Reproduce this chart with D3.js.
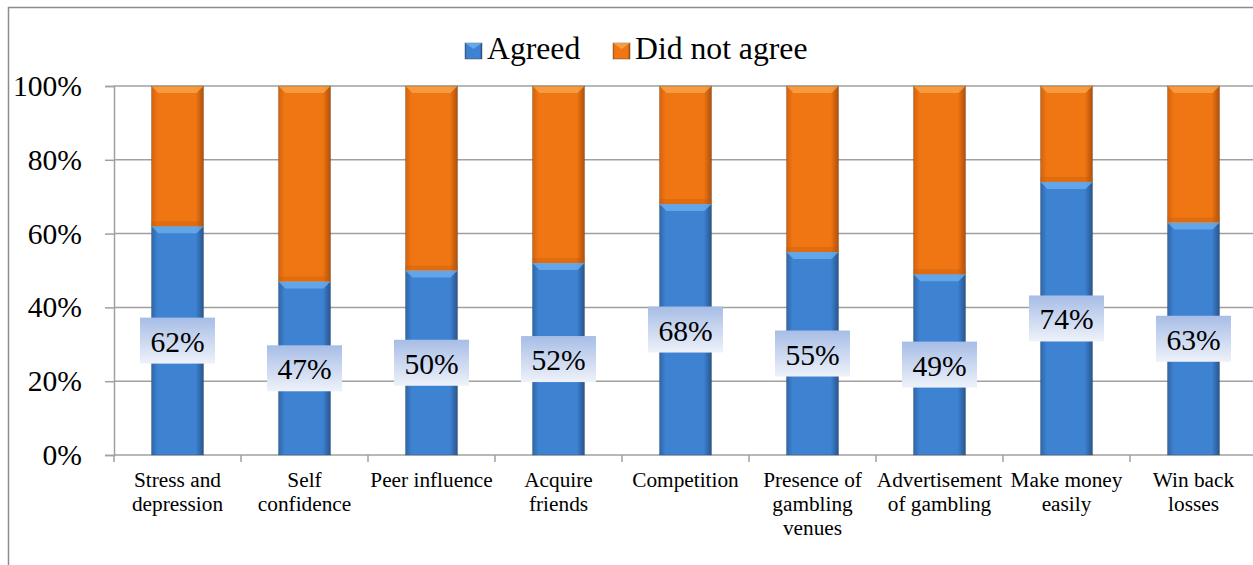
<!DOCTYPE html>
<html><head><meta charset="utf-8">
<script src="https://cdn.jsdelivr.net/npm/d3@7"></script>
</head><body style="margin:0;background:#fff"><svg id="c" width="1253" height="565" font-family="Liberation Serif" style="display:block"></svg>
<script>
const categories = [["Stress and","depression"],["Self","confidence"],["Peer influence"],["Acquire","friends"],["Competition"],["Presence of","gambling","venues"],["Advertisement","of gambling"],["Make money","easily"],["Win back","losses"]];
const agreed = [62,47,50,52,68,55,49,74,63];
const notAgreed = agreed.map(v=>100-v);
const yTicks = [0,20,40,60,80,100];
const seriesNames = ["Agreed","Did not agree"];
const FONT = "Liberation Serif";

const svg = d3.select("#c");
const defs = svg.append("defs");
function barGrad(id, c0, c1, c2){
  const g = defs.append("linearGradient").attr("id",id).attr("x1",0).attr("x2",1).attr("y1",0).attr("y2",0);
  g.append("stop").attr("offset","0%").attr("stop-color",c0);
  g.append("stop").attr("offset","12%").attr("stop-color",c1);
  g.append("stop").attr("offset","85%").attr("stop-color",c1);
  g.append("stop").attr("offset","100%").attr("stop-color",c2);
}
barGrad("gb","#2f66a8","#3e82d2","#28558e");
barGrad("go","#d4620c","#f07613","#b0500a");
const lg = defs.append("linearGradient").attr("id","gl").attr("x1",0).attr("x2",0).attr("y1",0).attr("y2",1);
lg.append("stop").attr("offset","0%").attr("stop-color","#a7bde6");
lg.append("stop").attr("offset","100%").attr("stop-color","#eef2fa");

// frame
svg.append("path").attr("d","M8.5,565 V7.5 H1253").attr("fill","none").attr("stroke","#8c8c8c").attr("stroke-width",1.5);

const x = d3.scaleBand().domain(d3.range(categories.length)).range([114,1257]).paddingInner(0.59).paddingOuter(0.295);
const xo = d3.scaleBand().domain(d3.range(categories.length)).range([114,1257]);
const y = d3.scaleLinear().domain([0,100]).range([455,86]);

// gridlines
svg.append("g").selectAll("line").data(yTicks.slice(1)).join("line")
  .attr("x1",114).attr("x2",1257).attr("y1",d=>y(d)).attr("y2",d=>y(d))
  .attr("stroke","#a0a0a0").attr("stroke-width",1.5);

// y axis
const ya = svg.append("g").attr("transform","translate(114,0)")
  .call(d3.axisLeft(y).tickValues(yTicks).tickFormat(d=>d+"%").tickSize(9).tickPadding(23));
ya.attr("font-family",FONT);
ya.select(".domain").attr("stroke","#a0a0a0").attr("stroke-width",1.5);
ya.selectAll(".tick line").attr("stroke","#a0a0a0").attr("stroke-width",1.5);
ya.selectAll("text").attr("font-family",FONT).attr("font-size",29.6).attr("fill","#000");

// x axis
const xa = svg.append("g").attr("transform","translate(0,455)");
xa.append("line").attr("x1",114).attr("x2",1257).attr("y1",0).attr("y2",0).attr("stroke","#a0a0a0").attr("stroke-width",1.5);
xa.selectAll("line.t").data(d3.range(categories.length+1)).join("line").attr("class","t")
  .attr("x1",i=>114+i*xo.bandwidth()).attr("x2",i=>114+i*xo.bandwidth()).attr("y1",0).attr("y2",7)
  .attr("stroke","#a0a0a0").attr("stroke-width",1.5);
xa.selectAll("text").data(categories).join("text")
  .attr("text-anchor","middle").attr("font-family",FONT).attr("font-size",21.3).attr("fill","#000")
  .attr("transform",(d,i)=>`translate(${xo(i)+xo.bandwidth()/2},32)`)
  .selectAll("tspan").data(d=>d).join("tspan").attr("x",0).attr("dy",(d,j)=>j?24:0).text(d=>d);

// bars
const bw = x.bandwidth();
const gBars = svg.append("g");
function bevel(sel, x0, yTop, color){
  const b = 7;
  sel.append("path").attr("d",`M${x0},${yTop} H${x0+bw} L${x0+bw-b},${yTop+b} H${x0+b} Z`).attr("fill",color).attr("opacity",0.75);
}
agreed.forEach((v,i)=>{
  const x0 = x(i);
  gBars.append("rect").attr("x",x0).attr("y",y(v)).attr("width",bw).attr("height",y(0)-y(v)).attr("fill","url(#gb)");
  bevel(gBars,x0,y(v),"#6fb2f0");
  gBars.append("rect").attr("x",x0).attr("y",y(100)).attr("width",bw).attr("height",y(v)-y(100)).attr("fill","url(#go)");
  bevel(gBars,x0,y(100),"#f8a850");
  gBars.append("path").attr("d",`M${x0},${y(v)-5} H${x0+bw} V${y(v)} H${x0} Z`).attr("fill","#c45c0c").attr("opacity",0.35);
});
gBars.append("g").selectAll("rect").data(agreed).join("rect")
  .attr("x",(d,i)=>x(i)).attr("y",y(100)).attr("width",bw).attr("height",y(0)-y(100))
  .attr("fill","none").attr("stroke","#333").attr("stroke-opacity",0.25).attr("stroke-width",1);

// data labels
const lab = svg.append("g");
agreed.forEach((v,i)=>{
  const cx = x(i)+bw/2, cy = (y(0)+y(v))/2;
  lab.append("rect").attr("x",cx-37.5).attr("y",cy-23).attr("width",75).attr("height",46).attr("fill","url(#gl)");
  lab.append("text").attr("x",cx).attr("y",cy+11).attr("text-anchor","middle").attr("font-family",FONT).attr("font-size",29.6).attr("fill","#000").text(v+"%");
});

// legend
const leg = svg.append("g");
const legX = [465,613];
const legFill = ["url(#gb)","url(#go)"];
const legBevel = ["#6fb2f0","#f8a850"];
seriesNames.forEach((n,i)=>{
  leg.append("rect").attr("x",legX[i]).attr("y",43).attr("width",17).attr("height",16).attr("fill",legFill[i]).attr("stroke","#333").attr("stroke-opacity",0.4);
  leg.append("path").attr("d",`M${legX[i]},43 h17 l-8.5,6 Z`).attr("fill",legBevel[i]).attr("opacity",0.8);
  leg.append("text").attr("x",legX[i]+22).attr("y",59).attr("font-family",FONT).attr("font-size",31.7).attr("fill","#000").text(n);
});
</script></body></html>
